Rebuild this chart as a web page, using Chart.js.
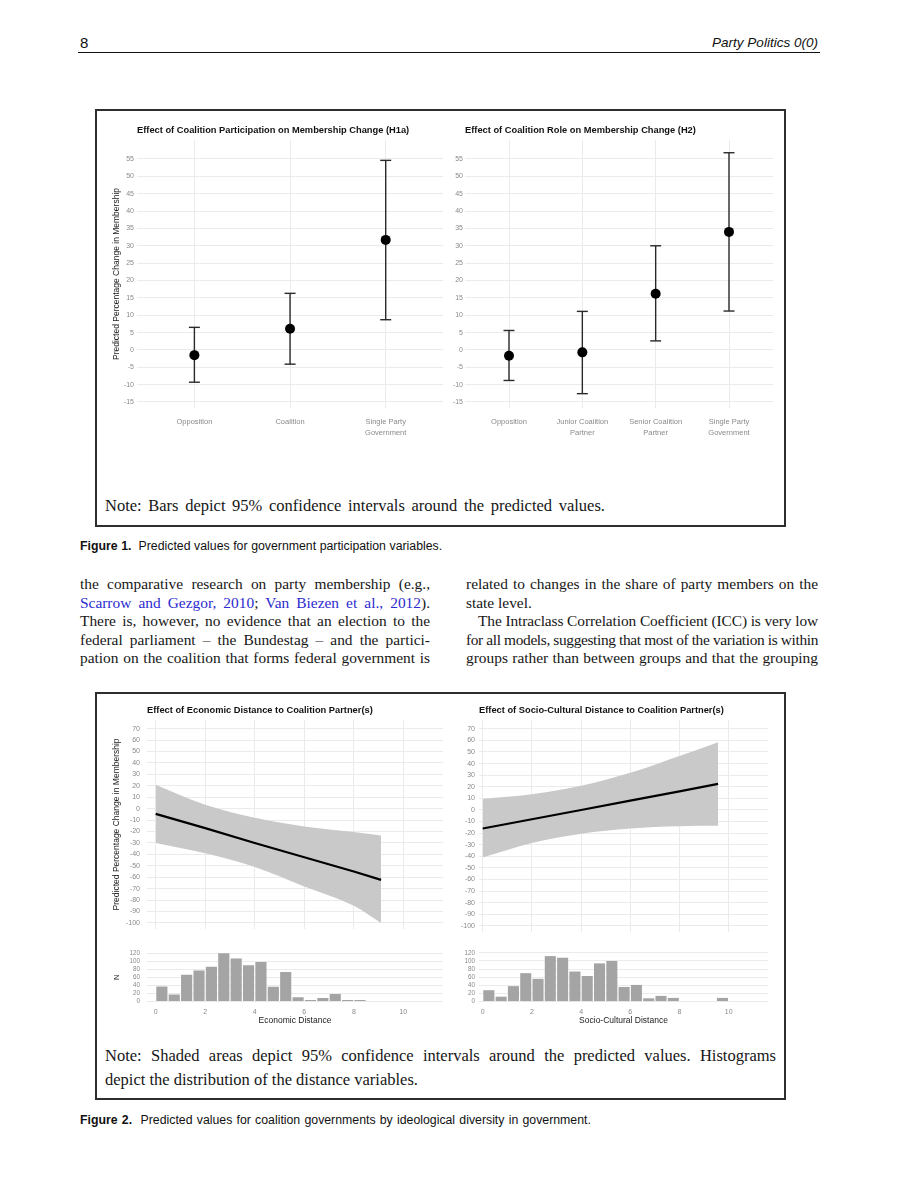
<!DOCTYPE html>
<html><head><meta charset="utf-8">
<script src="https://cdn.jsdelivr.net/npm/chart.js@4.4.0/dist/chart.umd.min.js"></script>
<style>
html,body{margin:0;padding:0;background:#fff;}
body{width:900px;height:1200px;position:relative;overflow:hidden;}
.abs{position:absolute;white-space:nowrap;}
.box{position:absolute;border:2px solid #2e2e2e;box-sizing:border-box;}
canvas{position:absolute;}
.serif{font-family:'Liberation Serif','Times New Roman',serif;color:#161616;}
.body{font-size:15.4px;line-height:18px;}
.note{font-size:16.5px;line-height:20px;}
.cap{font-family:'Liberation Sans',Arial,sans-serif;font-size:12.3px;line-height:14px;color:#111;}
.hdr{font-family:'Liberation Sans Narrow','Liberation Sans',Arial,sans-serif;font-size:15px;line-height:18px;color:#111;}
a{color:#2b2bd0;text-decoration:none;}
.jl span{display:inline-block;white-space:nowrap;}
</style></head>
<body>
<!-- header -->
<div class="abs hdr" style="left:80px;top:34px;">8</div>
<div class="abs hdr jl" data-w="106" style="left:712px;top:34px;font-style:italic;font-size:13.5px;"><span>Party Politics 0(0)</span></div>
<div class="abs" style="left:78px;top:52px;width:742px;height:0;border-top:1px solid #111;"></div>

<!-- figure 1 -->
<div class="box" style="left:95px;top:109px;width:691px;height:418px;"></div>
<canvas id="c1" width="350" height="333" style="left:100px;top:112px;"></canvas>
<canvas id="c2" width="335" height="333" style="left:445px;top:112px;"></canvas>
<div class="abs serif note jl" data-w="500" style="left:105px;top:496px;"><span>Note: Bars depict 95% confidence intervals around the predicted values.</span></div>
<div class="abs cap jl" data-w="362" style="left:80px;top:539px;"><span><b>Figure 1.</b>&nbsp; Predicted values for government participation variables.</span></div>

<!-- body text -->
<div class="abs serif body jl" data-w="350" style="left:80px;top:575px;"><span>the comparative research on party membership (e.g.,</span></div>
<div class="abs serif body jl" data-w="350" style="left:80px;top:594px;"><span><a>Scarrow and Gezgor, 2010</a>; <a>Van Biezen et al., 2012</a>).</span></div>
<div class="abs serif body jl" data-w="350" style="left:80px;top:612px;"><span>There is, however, no evidence that an election to the</span></div>
<div class="abs serif body jl" data-w="350" style="left:80px;top:631px;"><span>federal parliament – the Bundestag – and the partici-</span></div>
<div class="abs serif body jl" data-w="350" style="left:80px;top:649px;"><span>pation on the coalition that forms federal government is</span></div>

<div class="abs serif body jl" data-w="352" style="left:466px;top:575px;"><span>related to changes in the share of party members on the</span></div>
<div class="abs serif body" style="left:466px;top:594px;">state level.</div>
<div class="abs serif body jl" data-w="340" style="left:478px;top:612px;"><span>The Intraclass Correlation Coefficient (ICC) is very low</span></div>
<div class="abs serif body jl" data-w="352" style="left:466px;top:631px;"><span>for all models, suggesting that most of the variation is within</span></div>
<div class="abs serif body jl" data-w="352" style="left:466px;top:649px;"><span>groups rather than between groups and that the grouping</span></div>

<!-- figure 2 -->
<div class="box" style="left:95px;top:692px;width:691px;height:408px;"></div>
<canvas id="c3" width="350" height="240" style="left:100px;top:700px;"></canvas>
<canvas id="c4" width="335" height="240" style="left:445px;top:700px;"></canvas>
<canvas id="c5" width="350" height="90" style="left:100px;top:940px;"></canvas>
<canvas id="c6" width="335" height="90" style="left:445px;top:940px;"></canvas>
<div class="abs serif note jl" data-w="671" style="left:105px;top:1046px;"><span>Note: Shaded areas depict 95% confidence intervals around the predicted values. Histograms</span></div>
<div class="abs serif note" style="left:105px;top:1070px;">depict the distribution of the distance variables.</div>
<div class="abs cap jl" data-w="510" style="left:80px;top:1113px;"><span><b>Figure 2.</b>&nbsp; Predicted values for coalition governments by ideological diversity in government.</span></div>

<script>
// ---------------- DATA ----------------
// Figure 1, left panel (H1a)
const h1Categories = [['Opposition'], ['Coalition'], ['Single Party', 'Government']];
const h1Estimate = [-1.5, 6.1, 31.7];
const h1Lower    = [-9.3, -4.1, 8.7];
const h1Upper    = [6.5, 16.3, 54.6];
// Figure 1, right panel (H2)
const h2Categories = [['Opposition'], ['Junior Coalition', 'Partner'], ['Senior Coalition', 'Partner'], ['Single Party', 'Government']];
const h2Estimate = [-1.7, -0.7, 16.2, 34.0];
const h2Lower    = [-8.8, -12.6, 2.6, 11.2];
const h2Upper    = [5.6, 11.1, 30.0, 56.8];
const fig1YTicks = [-15, -10, -5, 0, 5, 10, 15, 20, 25, 30, 35, 40, 45, 50, 55];

// Figure 2, economic distance
const econX      = [0, 2, 4, 6, 8, 9.1];
const econFit    = [-4.5, -17, -30, -42.5, -55, -62.3];
const econUpper  = [21, 3.5, -8, -15.5, -20.5, -23.4];
const econLower  = [-30, -39, -51, -68, -85, -100];
// Figure 2, socio-cultural distance
const socX       = [0, 2, 4, 6, 8, 9.57];
const socFit     = [-16, -8, 0, 8, 16, 22.5];
const socUpper   = [9.5, 13.5, 20.8, 32, 46.5, 58.4];
const socLower   = [-41, -28.5, -20.5, -16, -14, -13.7];
const fig2YTicks = [-100, -90, -80, -70, -60, -50, -40, -30, -20, -10, 0, 10, 20, 30, 40, 50, 60, 70];

// Histograms (bins of width 0.5 starting at 0)
const econCounts = [38, 18, 67, 78, 87, 121, 108, 91, 99, 37, 74, 11, 4, 9, 19, 4, 4];
const socCounts  = [28, 12, 38, 70, 56, 112, 108, 74, 63, 94, 100, 36, 41, 8, 14, 9, 0, 0, 0, 9];
const histYTicks = [0, 20, 40, 60, 80, 100, 120];
const distanceTicks = [0, 2, 4, 6, 8, 10];
const binWidth = 0.5;

// ---------------- STYLE ----------------
const FONT = "'Liberation Sans', Arial, Helvetica, sans-serif";
Chart.defaults.font.family = FONT;
const GRID = '#ebebeb';
const TICK = '#8a8a8a';
const AXT = '#222';
const setTicks = arr => ax => { ax.ticks = arr.map(v => ({ value: v })); };
const basePlugins = title => ({
  legend: { display: false }, tooltip: { enabled: false },
  title: title ? { display: true, text: title, align: 'start', fullSize: false, color: '#111',
    font: { size: 9.3, weight: 'bold' }, padding: { top: 0, bottom: 0 } } : { display: false }
});

function dotChart(id, cats, est, lo, hi, o) {
  const datasets = [{
    data: est.map((v, i) => ({ x: i, y: v })), showLine: false,
    pointRadius: 5, pointHoverRadius: 5, pointBackgroundColor: '#000', pointBorderColor: '#000', pointBorderWidth: 0
  }];
  cats.forEach((c, i) => datasets.push({
    data: [{ x: i, y: lo[i] }, { x: i, y: hi[i] }], showLine: true,
    borderColor: '#2a2a2a', borderWidth: 1.4, pointStyle: 'line', pointRadius: 5.5, pointHoverRadius: 5.5,
    pointBorderWidth: 1.4, pointBorderColor: '#2a2a2a', pointBackgroundColor: '#2a2a2a'
  }));
  const plugins = basePlugins(o.title);
  plugins.title.padding = { top: 13, bottom: 3.84 };
  return new Chart(document.getElementById(id), {
    type: 'scatter', data: { datasets },
    options: {
      responsive: false, animation: false, devicePixelRatio: 1,
      layout: { padding: { left: 0, right: o.padRight, top: 0, bottom: 0 } },
      plugins,
      scales: {
        x: { type: 'linear', min: -0.6, max: cats.length - 1 + 0.6,
          afterBuildTicks: ax => { ax.ticks = cats.map((c, i) => ({ value: i })); },
          afterFit: s => { s.height = 37; },
          grid: { color: GRID, drawTicks: false }, border: { display: false },
          ticks: { callback: v => cats[v], color: TICK, font: { size: 7.5, lineHeight: 1.5 }, padding: 8.4, maxRotation: 0, autoSkip: false } },
        y: { min: -16.73, max: 60.47, afterBuildTicks: setTicks(fig1YTicks),
          afterFit: s => { s.width = o.yWidth; },
          grid: { color: GRID, drawTicks: false }, border: { display: false },
          ticks: { color: TICK, font: { size: 7 }, padding: o.tickPad, autoSkip: false },
          title: o.yTitle ? { display: true, text: o.yTitle, color: AXT, font: { size: 8.5 }, padding: { top: 11.9, bottom: 0 } } : { display: false } }
      }
    }
  });
}

function bandChart(id, xs, fit, up, low, o) {
  const pts = arr => arr.map((v, i) => ({ x: xs[i], y: v }));
  const plugins = basePlugins(o.title);
  plugins.title.padding = { top: 5, bottom: 3.84 };
  return new Chart(document.getElementById(id), {
    type: 'scatter',
    data: { datasets: [
      { data: pts(fit), showLine: true, borderColor: '#000', borderWidth: 2.2, pointRadius: 0, tension: 0 },
      { data: pts(up), showLine: true, borderWidth: 0, borderColor: 'rgba(0,0,0,0)', pointRadius: 0, fill: '+1', backgroundColor: '#c9c9c9', cubicInterpolationMode: 'monotone' },
      { data: pts(low), showLine: true, borderWidth: 0, borderColor: 'rgba(0,0,0,0)', pointRadius: 0, fill: false, cubicInterpolationMode: 'monotone' }
    ] },
    options: {
      responsive: false, animation: false, devicePixelRatio: 1,
      layout: { padding: { left: 0, right: o.padRight, top: 0, bottom: 0 } },
      plugins,
      scales: {
        x: { type: 'linear', min: o.xMin, max: 11.6, afterBuildTicks: setTicks(distanceTicks),
          afterFit: s => { s.height = 5; },
          grid: { color: GRID, drawTicks: false }, border: { display: false }, ticks: { display: false } },
        y: { min: -105.1, max: 77.6, afterBuildTicks: setTicks(fig2YTicks),
          afterFit: s => { s.width = o.yWidth; },
          grid: { color: GRID, drawTicks: false }, border: { display: false },
          ticks: { color: TICK, font: { size: 7 }, padding: o.tickPad, autoSkip: false },
          title: o.yTitle ? { display: true, text: o.yTitle, color: AXT, font: { size: 8.5 }, padding: { top: 11.9, bottom: 0 } } : { display: false } }
      }
    }
  });
}

function histChart(id, counts, o) {
  return new Chart(document.getElementById(id), {
    type: 'bar',
    data: { datasets: [{ data: counts.map((c, i) => ({ x: i * binWidth + binWidth / 2, y: c })),
      backgroundColor: '#a4a4a4', borderWidth: 0, barPercentage: 0.9, categoryPercentage: 1 }] },
    options: {
      responsive: false, animation: false, devicePixelRatio: 1,
      layout: { padding: { left: 0, right: o.padRight, top: 10, bottom: 0 } },
      plugins: basePlugins(null),
      scales: {
        x: { type: 'linear', offset: false, min: o.xMin, max: 11.6, afterBuildTicks: setTicks(distanceTicks),
          afterFit: s => { s.height = 26; },
          grid: { display: false, drawTicks: false }, border: { display: false },
          ticks: { color: TICK, font: { size: 7 }, padding: 4, maxRotation: 0, autoSkip: false },
          title: { display: true, text: o.xTitle, color: AXT, font: { size: 8.5 }, padding: { top: 0, bottom: 3.9 } } },
        y: { min: -6, max: 127, afterBuildTicks: setTicks(histYTicks),
          afterFit: s => { s.width = o.yWidth; },
          grid: { color: GRID, drawTicks: false }, border: { display: false },
          ticks: { color: TICK, font: { size: 6.3 }, padding: o.tickPad, autoSkip: false },
          title: o.yTitle ? { display: true, text: o.yTitle, color: AXT, font: { size: 7.5 }, padding: { top: 12.5, bottom: 0 } } : { display: false } }
      }
    }
  });
}

const yLab = 'Predicted Percentage Change in Membership';
dotChart('c1', h1Categories, h1Estimate, h1Lower, h1Upper, { title: 'Effect of Coalition Participation on Membership Change (H1a)', yTitle: yLab, yWidth: 37, padRight: 5, tickPad: 3 });
dotChart('c2', h2Categories, h2Estimate, h2Lower, h2Upper, { title: 'Effect of Coalition Role on Membership Change (H2)', yTitle: null, yWidth: 20, padRight: 7, tickPad: 2 });
bandChart('c3', econX, econFit, econUpper, econLower, { title: 'Effect of Economic Distance to Coalition Partner(s)', yTitle: yLab, yWidth: 47, padRight: 7, tickPad: 7, xMin: -0.35 });
bandChart('c4', socX, socFit, socUpper, socLower, { title: 'Effect of Socio-Cultural Distance to Coalition Partner(s)', yTitle: null, yWidth: 34, padRight: 12, tickPad: 4, xMin: -0.15 });
histChart('c5', econCounts, { xTitle: 'Economic Distance', yTitle: 'N', yWidth: 47, padRight: 7, tickPad: 7, xMin: -0.35 });
histChart('c6', socCounts, { xTitle: 'Socio-Cultural Distance', yTitle: null, yWidth: 34, padRight: 12, tickPad: 4, xMin: -0.15 });

// justify single text lines to their column width
document.querySelectorAll('.jl').forEach(el => {
  const target = parseFloat(el.dataset.w);
  const span = el.firstElementChild;
  const w = span.getBoundingClientRect().width;
  const txt = span.textContent;
  const spaces = (txt.match(/ /g) || []).length;
  if (w > target) {
    span.style.letterSpacing = ((target - w) / txt.length) + 'px';
  } else if (spaces) {
    span.style.wordSpacing = ((target - w) / spaces) + 'px';
  }
});
</script>
</body></html>
